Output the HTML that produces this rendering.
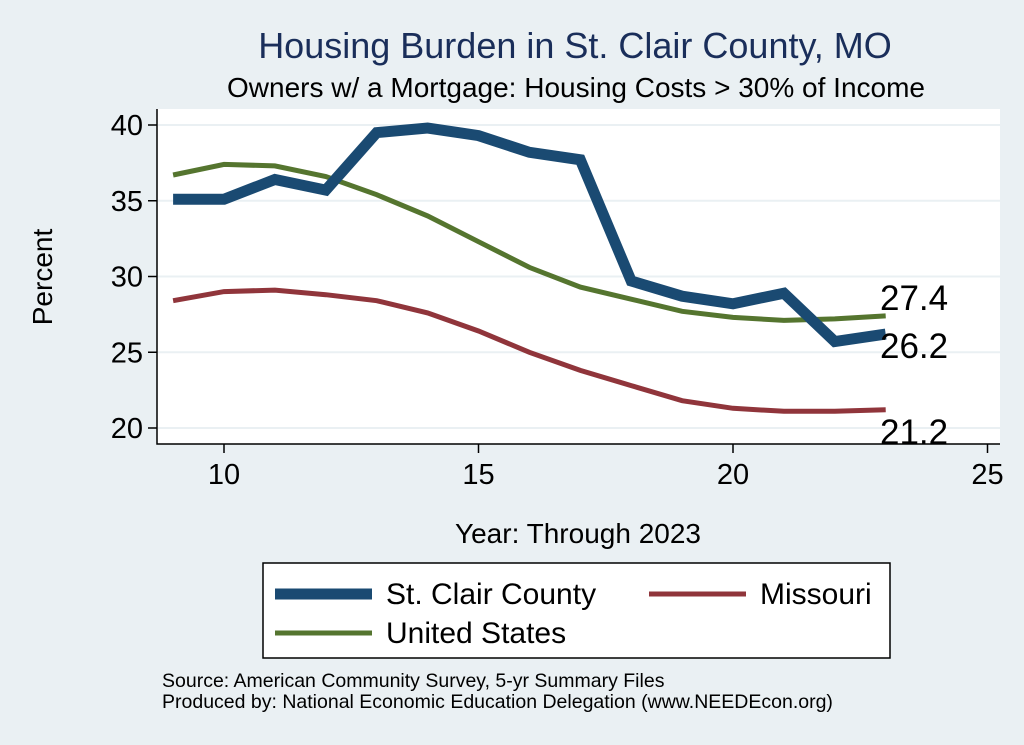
<!DOCTYPE html>
<html><head><meta charset="utf-8"><style>
body{margin:0;background:#eaf0f3;}
svg{display:block;font-family:"Liberation Sans",Arial,sans-serif;}
</style></head><body>
<svg width="1024" height="745">
<rect x="0" y="0" width="1024" height="745" fill="#eaf0f3"/>
<text x="575" y="58" text-anchor="middle" font-size="36" fill="#1a2e5a">Housing Burden in St. Clair County, MO</text>
<text x="576" y="97" text-anchor="middle" font-size="28" fill="#000">Owners w/ a Mortgage: Housing Costs &gt; 30% of Income</text>
<rect x="157" y="109" width="843" height="335" fill="#fff"/>
<g id="grid"></g>
<g id="axes"></g>
<g id="series"></g>
<text x="52" y="277" text-anchor="middle" font-size="28" transform="rotate(-90 52 277)">Percent</text>
<text x="578" y="543" text-anchor="middle" font-size="28">Year: Through 2023</text>
<g>
<rect x="263" y="563" width="627" height="95" fill="#fff" stroke="#000" stroke-width="1.5"/>
<line x1="275" y1="594" x2="372" y2="594" stroke="#1a4a72" stroke-width="11"/>
<text x="386" y="604" font-size="30">St. Clair County</text>
<line x1="649" y1="594" x2="746" y2="594" stroke="#90353b" stroke-width="5"/>
<text x="760" y="604" font-size="30">Missouri</text>
<line x1="275" y1="633" x2="372" y2="633" stroke="#55752f" stroke-width="5"/>
<text x="386" y="643" font-size="30">United States</text>
</g>
<text x="162" y="687" font-size="19.5">Source: American Community Survey, 5-yr Summary Files</text>
<text x="162" y="708" font-size="19.5">Produced by: National Economic Education Delegation (www.NEEDEcon.org)</text>
</svg>
<script>
const years=[9,10,11,12,13,14,15,16,17,18,19,20,21,22,23];
const stClair=[35.1,35.1,36.4,35.7,39.5,39.8,39.3,38.2,37.7,29.7,28.7,28.2,28.9,25.7,26.2];
const missouri=[28.4,29.0,29.1,28.8,28.4,27.6,26.4,25.0,23.8,22.8,21.8,21.3,21.1,21.1,21.2];
const us=[36.7,37.4,37.3,36.6,35.4,34.0,32.3,30.6,29.3,28.5,27.7,27.3,27.1,27.2,27.4];
const xTicks=[10,15,20,25];
const yTicks=[20,25,30,35,40];
const NS="http://www.w3.org/2000/svg";
const xs=v=>224+(v-10)*50.9;
const ys=v=>428-(v-20)*15.15;
function mk(tag,attrs,parent){const e=document.createElementNS(NS,tag);for(const k in attrs)e.setAttribute(k,attrs[k]);document.getElementById(parent).appendChild(e);return e;}
yTicks.forEach(t=>{
 const g=mk('line',{x1:158,x2:1000,y1:ys(t),y2:ys(t),stroke:'#eaf0f3','stroke-width':2},'grid');
 
 
 const tk=mk('line',{x1:148,x2:157,y1:ys(t),y2:ys(t),stroke:'#000','stroke-width':1.5},'axes');
 
 
 const tx=mk('text',{x:143,y:ys(t)+10,'text-anchor':'end','font-size':29},'axes');
 tx.textContent=t;
 
 
});
xTicks.forEach(t=>{
 const tk=mk('line',{x1:xs(t),x2:xs(t),y1:444,y2:453,stroke:'#000','stroke-width':1.5},'axes');
 
 
 const tx=mk('text',{x:xs(t),y:484,'text-anchor':'middle','font-size':29},'axes');
 tx.textContent=t;
 
 
});
const ax=mk('path',{d:'M157 109 V444 H1000',fill:'none',stroke:'#000','stroke-width':1.5},'axes');


function line(vals,color,w,name){
 const d=vals.map((v,i)=>(i?'L':'M')+xs(years[i]).toFixed(1)+' '+ys(v).toFixed(1)).join(' ');
 const p=mk('path',{d:d,fill:'none',stroke:color,'stroke-width':w,'stroke-linejoin':'miter'},'series');
 
 
}
line(missouri,'#90353b',5,'line-missouri');
line(us,'#55752f',5,'line-us');
line(stClair,'#1a4a72',11,'line-st-clair');
function label(vals,dy,name){
 const v=vals[vals.length-1];
 const tx=mk('text',{x:880,y:ys(v)+dy,'font-size':35},'series');
 tx.textContent=v.toFixed(1);
 
 
}
label(us,-6,'label-us-last');
label(stClair,24,'label-st-clair-last');
label(missouri,34,'label-missouri-last');
</script>
</body></html>
